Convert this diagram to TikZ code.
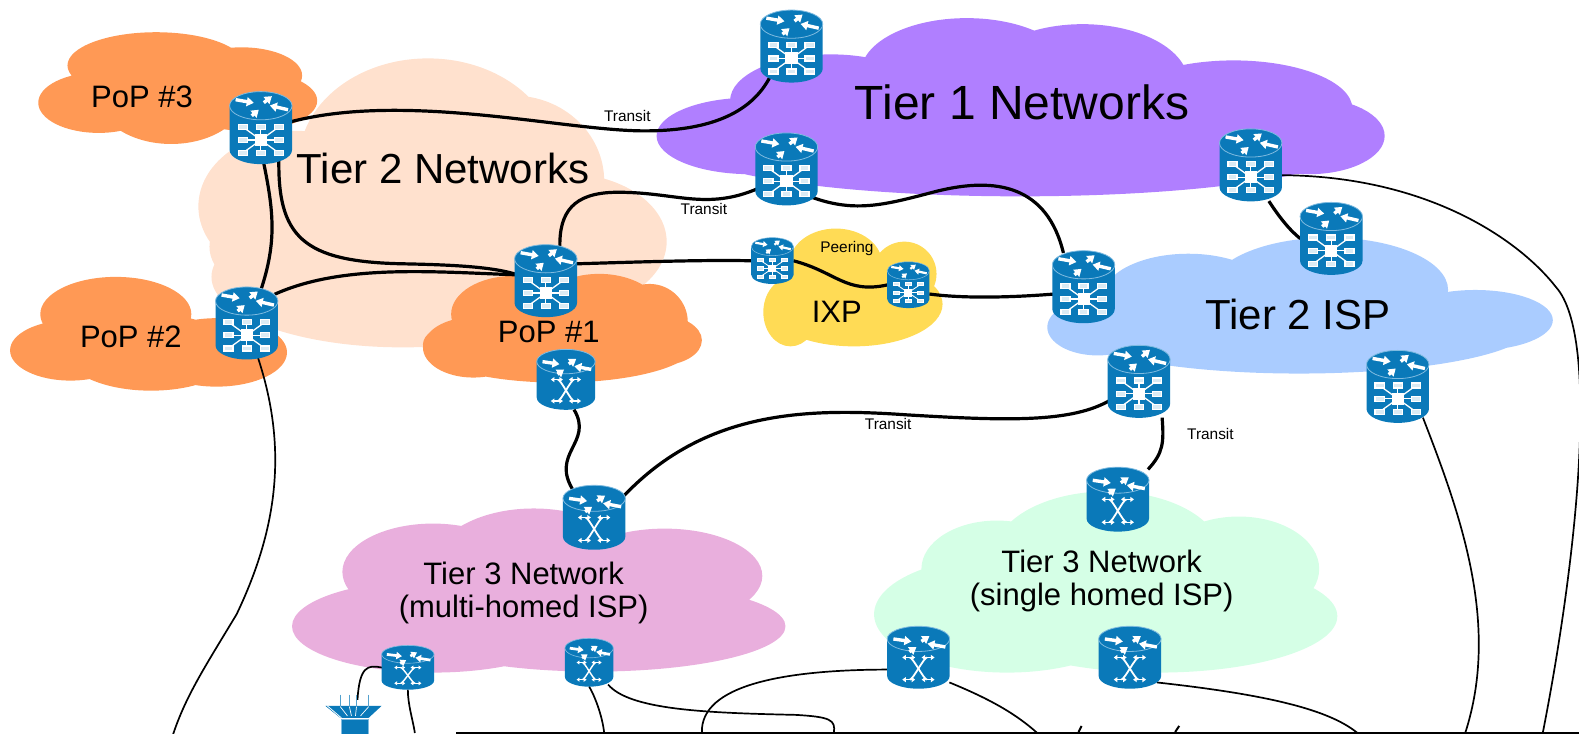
\documentclass[tikz,border=0pt]{standalone}
\usepackage{fontspec}
\setmainfont{Liberation Sans}
\usetikzlibrary{arrows.meta,calc}
\definecolor{devblue}{HTML}{0A79B9}
\definecolor{devrim}{HTML}{7FBBE0}
\definecolor{cPurple}{HTML}{B07FFF}
\definecolor{cPeach}{HTML}{FFE1CE}
\definecolor{cOrange}{HTML}{FF9955}
\definecolor{cYellow}{HTML}{FFDB55}
\definecolor{cBlue}{HTML}{AACCFF}
\definecolor{cPink}{HTML}{E9AFDD}
\definecolor{cGreen}{HTML}{D5FFE6}
\tikzset{
  thicklink/.style={line width=3.2pt,black},
  thinlink/.style={line width=1.7pt,black},
  biglabel/.style={font=\fontsize{48}{52}\selectfont},
  midlabel/.style={font=\fontsize{42}{46}\selectfont},
  poplabel/.style={font=\fontsize{31}{34}\selectfont},
  t3label/.style={font=\fontsize{31}{33}\selectfont,align=center},
  smalllabel/.style={font=\fontsize{15.4}{18}\selectfont},
}
\newcommand{\devnode}[5]{\node[inner sep=0pt,outer sep=0pt,minimum width=#4pt,minimum height=#5pt] (#1) at (#2,#3) {};}
\newcommand{\toparrows}[2]{%
  \foreach \xa/\ya/\xb/\yb in {-25/-28/-7/-24.8, 3/-25/11/-31.5, 27/-18/9/-22.2, -9/-12/-2/-18}{
    \draw[white,line width=#2*3.4pt,-{Triangle[length=#2*7pt,width=#2*9pt]}] (\xa,\ya+#1) -- (\xb,\yb+#1);
  }
}
\newcommand{\routericon}[5]{%
  \begin{scope}[shift={(#1,#2)},xscale=#3/62,yscale=#4/72]
    \fill[devblue] (-31,-22) arc[start angle=180,end angle=360,x radius=31,y radius=14]
       -- (31,22) arc[start angle=0,end angle=180,x radius=31,y radius=14] -- cycle;
    \draw[devrim,line width=#5*0.8pt] (-31,-22) arc[start angle=180,end angle=540,x radius=31,y radius=14];
    \toparrows{0}{#5}
    \foreach \xa/\ya in {-18/-1,0/-1,18/-1,-18/12,18/12,-18/25,0/25,18/25}{
      \draw[white,line width=#5*1.3pt] (0,12) -- (\xa,\ya);
      \draw[white,fill=devblue!15,line width=#5*1.3pt] (\xa-4.5,\ya-2.5) rectangle (\xa+4.5,\ya+2.5);
    }
    \fill[white] (-6,6) rectangle (6,18);
  \end{scope}
}
\newcommand{\switchicon}[5]{%
  \begin{scope}[shift={(#1,#2)},xscale=#3/58,yscale=#4/62]
    \fill[devblue] (-29,-18.5) arc[start angle=180,end angle=360,x radius=29,y radius=12.5]
       -- (29,18.5) arc[start angle=0,end angle=180,x radius=29,y radius=12.5] -- cycle;
    \draw[devrim,line width=#5*0.8pt] (-29,-18.5) arc[start angle=180,end angle=540,x radius=29,y radius=12.5];
    \begin{scope}[xscale=0.93,yscale=0.8]
      \toparrows{5}{#5}
    \end{scope}
    \begin{scope}[white,line width=#5*1.2pt,-{Triangle[length=#5*3.6pt,width=#5*5pt]}]
      \draw (-8,0) -- (-15,0);
      \draw (8,0) -- (15,0);
      \draw (-8,22) -- (-15,22);
      \draw (8,22) -- (15,22);
      \draw (-8,0) -- (-3,0);
      \draw (8,0) -- (3,0);
      \draw (-8,22) -- (-3,22);
      \draw (8,22) -- (3,22);
    \end{scope}
    \draw[white,line width=#5*1.8pt] (-8,0) .. controls (-5,0) and (5,22) .. (8,22);
    \draw[white,line width=#5*1.8pt] (8,0) .. controls (5,0) and (-5,22) .. (-8,22);
  \end{scope}
}
\begin{document}
\begin{tikzpicture}[x=1.00702pt,y=-1.00686pt]
\useasboundingbox (0,0) rectangle (1568,729);
\begin{scope}
\clip (10,0) rectangle (1568,729);
% Tier 2 Networks
\fill[cPeach] (425,160) ellipse[x radius=128,y radius=102]
  (510,180) ellipse[x radius=90,y radius=85]
  (560,240) ellipse[x radius=102,y radius=68]
  (295,205) ellipse[x radius=98,y radius=75]
  (400,275) ellipse[x radius=190,y radius=70]
  (270,245) ellipse[x radius=62,y radius=45];
% Tier 1
\fill[cPurple] (1013,145) ellipse[x radius=330,y radius=50]
  (745,135) ellipse[x radius=93,y radius=38]
  (825,100) ellipse[x radius=100,y radius=46]
  (960,72) ellipse[x radius=105,y radius=54]
  (1075,82) ellipse[x radius=105,y radius=58]
  (1225,108) ellipse[x radius=118,y radius=48]
  (1300,135) ellipse[x radius=75,y radius=38];
% PoPs
\fill[cOrange] (170,92) ellipse[x radius=75,y radius=51]
  (155,65) ellipse[x radius=88,y radius=33]
  (98,102) ellipse[x radius=60,y radius=30]
  (245,100) ellipse[x radius=70,y radius=30]
  (240,75) ellipse[x radius=60,y radius=28];
\fill[cOrange] (115,312) ellipse[x radius=75,y radius=37]
  (70,348) ellipse[x radius=60,y radius=30]
  (150,350) ellipse[x radius=85,y radius=38]
  (215,350) ellipse[x radius=70,y radius=34];
\fill[cOrange] (555,342) ellipse[x radius=135,y radius=38]
  (510,312) ellipse[x radius=62,y radius=38]
  (595,315) ellipse[x radius=65,y radius=43]
  (645,320) ellipse[x radius=38,y radius=38]
  (655,338) ellipse[x radius=42,y radius=25]
  (470,345) ellipse[x radius=50,y radius=30];
% IXP
\fill[cYellow] (848,302) ellipse[x radius=88,y radius=42]
  (830,262) ellipse[x radius=46,y radius=35]
  (785,310) ellipse[x radius=27,y radius=34]
  (898,272) ellipse[x radius=32,y radius=32];
% Tier 2 ISP
\fill[cBlue] (1290,325) ellipse[x radius=230,y radius=46]
  (1090,325) ellipse[x radius=50,y radius=28]
  (1180,295) ellipse[x radius=85,y radius=43]
  (1320,288) ellipse[x radius=118,y radius=52]
  (1465,318) ellipse[x radius=77,y radius=30];
% Tier 3 multi-homed
\fill[cPink] (430,622) ellipse[x radius=140,y radius=46]
  (590,622) ellipse[x radius=190,y radius=45]
  (430,568) ellipse[x radius=90,y radius=48]
  (530,562) ellipse[x radius=100,y radius=57]
  (660,572) ellipse[x radius=97,y radius=47];
% Tier 3 single homed
\fill[cGreen] (1000,610) ellipse[x radius=132,y radius=58]
  (1150,612) ellipse[x radius=178,y radius=56]
  (990,565) ellipse[x radius=75,y radius=48]
  (1100,550) ellipse[x radius=112,y radius=62]
  (1230,565) ellipse[x radius=80,y radius=52];
\end{scope}
% labels
\node[biglabel] (t1) at (1015,102) {Tier 1 Networks};
\node[midlabel] (t2n) at (440,167) {Tier 2 Networks};
\node[midlabel] (t2i) at (1289,312) {Tier 2 ISP};
\node[poplabel] (p3) at (141,96) {PoP \#3};
\node[poplabel] (p2) at (130,335) {PoP \#2};
\node[poplabel] (p1) at (545,330) {PoP \#1};
\node[poplabel] (ixp) at (831,310) {IXP};
\node[t3label] (t3m) at (520,589) {Tier 3 Network\\(multi-homed ISP)};
\node[t3label] (t3s) at (1094,577) {Tier 3 Network\\(single homed ISP)};
\node[smalllabel] (lt1) at (623,115) {Transit};
\node[smalllabel] (lt2) at (699,208) {Transit};
\node[smalllabel] (lt3) at (882,421) {Transit};
\node[smalllabel] (lt4) at (1202,431) {Transit};
\node[smalllabel] (lpe) at (841,247) {Peering};
% device nodes
\devnode{rTop}{786}{46}{62}{72}
\devnode{rLeft}{781}{168}{62}{72}
\devnode{rRight}{1242}{164}{62}{72}
\devnode{rIspTop}{1322}{237}{62}{72}
\devnode{rPop3}{259}{127}{62}{72}
\devnode{rPop2}{245}{321}{62}{72}
\devnode{rPop1}{542}{279}{62}{72}
\devnode{rIx1}{767}{259}{42}{46}
\devnode{rIx2}{902}{283}{42}{46}
\devnode{rIspL}{1076}{285}{62}{72}
\devnode{rIspB}{1131}{379}{62}{72}
\devnode{rIspR}{1388}{384}{62}{72}
\devnode{sPop1}{562}{377}{58}{60}
\devnode{sMtop}{590}{514}{62}{64}
\devnode{sStop}{1110}{496}{62}{64}
\devnode{sMa}{405}{663}{52}{44}
\devnode{sMb}{585}{658}{48}{48}
\devnode{sSa}{912}{653}{62}{62}
\devnode{sSb}{1122}{653}{62}{62}
% free ends
\coordinate (bPop2) at (172,729);
\coordinate (bMa) at (412,728);
\coordinate (bMb) at (600,728);
\coordinate (bMc) at (828,728);
\coordinate (bSa) at (697,728);
\coordinate (bSb) at (1030,728);
\coordinate (bSc) at (1348,728);
\coordinate (bR) at (1532,728);
\coordinate (bI) at (1455,728);
\coordinate (srvTop) at (355,695);
% thick links
\draw[thicklink] ($(rPop3.east)+(-5,-5)$) .. controls (400,90) and (560,130) .. (640,130) .. controls (700,130) and (745,115) .. ($(rTop.south)+(-21,-6)$);
\draw[thicklink] ($(rLeft.west)+(3,19)$) .. controls (700,210) and (670,190) .. (610,191) .. controls (570,192) and (555,210) .. ($(rPop1.north)+(14,3)$);
\draw[thicklink] ($(rLeft.south east)+(-6,-8)$) .. controls (850,212) and (880,203) .. (930,190) .. controls (990,175) and (1040,185) .. ($(rIspL.north)+(-20,2)$);
\draw[thicklink] ($(rPop3.south)+(2,-5)$) .. controls (272,210) and (275,240) .. ($(rPop2.north)+(14,3)$);
\draw[thicklink] ($(rPop3.south)+(18,-8)$) .. controls (275,235) and (300,260) .. (400,262) .. controls (450,263) and (490,265) .. ($(rPop1.west)+(3,-6)$);
\draw[thicklink] ($(rPop2.north east)+(-3,7)$) .. controls (340,262) and (430,270) .. ($(rPop1.west)+(3,-6)$);
\draw[thicklink] ($(rPop1.east)+(0,-17)$) .. controls (640,260) and (700,258) .. (rIx1.west);
\draw[thicklink] (rIx1.east) .. controls (830,270) and (840,292) .. (rIx2.west);
\draw[thicklink] ($(rIx2.east)+(0,9)$) .. controls (960,297) and (1010,295) .. ($(rIspL.west)+(2,7)$);
\draw[thicklink] ($(rRight.south)+(18,0)$) .. controls (1270,215) and (1280,228) .. (rIspTop.west);
\draw[thicklink] ($(sPop1.south)+(8,0)$) .. controls (590,440) and (545,450) .. ($(sMtop.north)+(-20,6)$);
\draw[thicklink] ($(sMtop.north east)+(-1,10)$) .. controls (700,408) and (800,405) .. (900,412) .. controls (1000,418) and (1065,420) .. ($(rIspB.west)+(3,18)$);
\draw[thicklink] ($(rIspB.south)+(23,0)$) .. controls (1156,440) and (1155,450) .. ($(sStop.north)+(30,2)$);
% thin links
\draw[thinlink] ($(rRight.east)+(0,10)$) .. controls (1420,175) and (1510,240) .. (1545,285) .. controls (1590,335) and (1565,560) .. (bR);
\draw[thinlink] ($(rIspR.south)+(25,-5)$) .. controls (1450,510) and (1490,620) .. (bI);
\draw[thinlink] ($(rPop2.south)+(10,-5)$) .. controls (285,440) and (278,520) .. (235,610) .. controls (205,660) and (185,690) .. (bPop2);
\draw[thinlink] (sMa.south) .. controls (405,700) and (410,715) .. (bMa);
\draw[thinlink] (sMa.west) .. controls (365,660) and (357,662) .. (srvTop);
\draw[thinlink] (sMb.south) .. controls (590,690) and (598,710) .. (bMb);
\draw[thinlink] ($(sMb.south east)+(-5,-2)$) .. controls (625,705) and (700,708) .. (790,710) .. controls (825,712) and (830,715) .. (bMc);
\draw[thinlink] ($(sSa.west)+(2,12)$) .. controls (780,665) and (695,680) .. (bSa);
\draw[thinlink] ($(sSa.south east)+(0,-6)$) .. controls (985,695) and (1010,710) .. (bSb);
\draw[thinlink] ($(sSb.south east)+(-4,-6)$) .. controls (1260,690) and (1320,705) .. (bSc);
% devices
\routericon{786}{46}{62}{72}{1}
\routericon{781}{168}{62}{72}{1}
\routericon{1242}{164}{62}{72}{1}
\routericon{1322}{237}{62}{72}{1}
\routericon{259}{127}{62}{72}{1}
\routericon{245}{321}{62}{72}{1}
\routericon{542}{279}{62}{72}{1}
\routericon{767}{259}{42}{46}{0.65}
\routericon{902}{283}{42}{46}{0.65}
\routericon{1076}{285}{62}{72}{1}
\routericon{1131}{379}{62}{72}{1}
\routericon{1388}{384}{62}{72}{1}
\switchicon{562}{377}{58}{60}{1}
\switchicon{590}{514}{62}{64}{1}
\switchicon{1110}{496}{62}{64}{1}
\switchicon{405}{663}{52}{44}{0.8}
\switchicon{585}{658}{48}{48}{0.8}
\switchicon{912}{653}{62}{62}{1}
\switchicon{1122}{653}{62}{62}{1}
% server / funnel icon
\begin{scope}
\clip (300,680) rectangle (400,729);
\fill[devblue] (323,701) -- (379,701) -- (366,713) -- (338,713) -- cycle;
\fill[devblue] (339,714) rectangle (366,735);
\draw[devrim,line width=0.8pt] (339,714) rectangle (366,735);
\draw[white,line width=0.8pt] (325,701) -- (339,713);
\foreach \xx/\xt in {338/345,347/349,354/353,366/358}{
  \draw[devblue!70,line width=0.8pt] (\xx,690) -- (\xx,702);
  \draw[white,line width=0.7pt] (\xx,702) -- (\xt,711);
}
\end{scope}
% bottom rule
\coordinate (ruleL) at (453,728);
\coordinate (ruleR) at (1568,728);
\draw[black,line width=2pt] (ruleL) -- (ruleR);
\coordinate (tickA) at (1071,727);
\coordinate (tickB) at (1074,721);
\coordinate (tickC) at (1167,727);
\coordinate (tickD) at (1171,721);
\draw[black,line width=2pt] (tickA) -- (tickB);
\draw[black,line width=2pt] (tickC) -- (tickD);
\end{tikzpicture}
\end{document}
